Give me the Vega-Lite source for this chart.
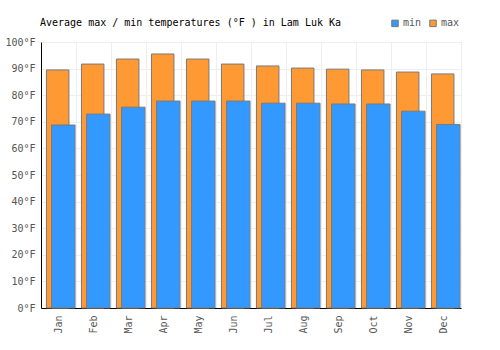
{
  "$schema": "https://vega.github.io/schema/vega-lite/v6.json",
  "width": 420,
  "height": 266,
  "autosize": {"type": "none"},
  "padding": {"left": 41, "top": 42, "right": 39, "bottom": 42},
  "background": "#ffffff",
  "title": {
    "text": "Average max / min temperatures (°F ) in Lam Luk Ka",
    "anchor": "start",
    "frame": "group",
    "font": "DejaVu Sans Mono",
    "fontSize": 10,
    "fontWeight": "normal",
    "color": "#000000",
    "baseline": "alphabetic",
    "offset": -18,
    "dx": -1
  },
  "data": {
    "values": [
      {"month": "Jan", "type": "max", "temp": 89.5}, {"month": "Jan", "type": "min", "temp": 68.8},
      {"month": "Feb", "type": "max", "temp": 91.7}, {"month": "Feb", "type": "min", "temp": 72.9},
      {"month": "Mar", "type": "max", "temp": 93.6}, {"month": "Mar", "type": "min", "temp": 75.5},
      {"month": "Apr", "type": "max", "temp": 95.5}, {"month": "Apr", "type": "min", "temp": 77.8},
      {"month": "May", "type": "max", "temp": 93.6}, {"month": "May", "type": "min", "temp": 77.8},
      {"month": "Jun", "type": "max", "temp": 91.7}, {"month": "Jun", "type": "min", "temp": 77.8},
      {"month": "Jul", "type": "max", "temp": 91.0}, {"month": "Jul", "type": "min", "temp": 77.0},
      {"month": "Aug", "type": "max", "temp": 90.2}, {"month": "Aug", "type": "min", "temp": 77.0},
      {"month": "Sep", "type": "max", "temp": 89.8}, {"month": "Sep", "type": "min", "temp": 76.7},
      {"month": "Oct", "type": "max", "temp": 89.5}, {"month": "Oct", "type": "min", "temp": 76.7},
      {"month": "Nov", "type": "max", "temp": 88.7}, {"month": "Nov", "type": "min", "temp": 74.0},
      {"month": "Dec", "type": "max", "temp": 88.0}, {"month": "Dec", "type": "min", "temp": 69.0}
    ]
  },
  "encoding": {
    "x": {
      "field": "month",
      "type": "nominal",
      "sort": null,
      "scale": {"paddingInner": 0, "paddingOuter": 0},
      "axis": {
        "title": null,
        "labelAngle": 270,
        "labelPadding": 7,
        "ticks": false,
        "grid": true,
        "bandPosition": 0,
        "domainColor": "#000000"
      }
    },
    "y": {
      "field": "temp",
      "type": "quantitative",
      "scale": {"domain": [0, 100], "nice": false},
      "axis": {
        "title": null,
        "values": [0, 10, 20, 30, 40, 50, 60, 70, 80, 90, 100],
        "labelExpr": "datum.value + '°F'",
        "ticks": false,
        "labelPadding": 6,
        "domainColor": "#000000"
      }
    },
    "color": {
      "field": "type",
      "type": "nominal",
      "scale": {"domain": ["min", "max"], "range": ["#3399ff", "#ff9933"]},
      "legend": {
        "title": null,
        "orient": "none",
        "direction": "horizontal",
        "legendX": 349,
        "legendY": -24,
        "padding": 0,
        "symbolType": "square",
        "symbolSize": 42,
        "symbolStrokeColor": "#777777",
        "symbolStrokeWidth": 1,
        "labelFont": "DejaVu Sans Mono",
        "labelFontSize": 10,
        "labelColor": "#555555",
        "labelOffset": 3,
        "columnPadding": 5
      }
    }
  },
  "layer": [
    {
      "transform": [{"filter": "datum.type === 'max'"}],
      "mark": {"type": "bar", "width": 22.5, "xOffset": -0.8, "stroke": "#7a7a7a", "strokeWidth": 1}
    },
    {
      "transform": [{"filter": "datum.type === 'min'"}],
      "mark": {"type": "bar", "width": 23.5, "xOffset": 4.8, "stroke": "#7a7a7a", "strokeWidth": 1}
    }
  ],
  "config": {
    "view": {"stroke": "#eeeeee"},
    "axis": {
      "labelFont": "DejaVu Sans Mono",
      "labelFontSize": 10,
      "labelColor": "#555555",
      "gridColor": "#eeeeee",
      "gridOpacity": 1,
      "domainWidth": 1
    }
  }
}
